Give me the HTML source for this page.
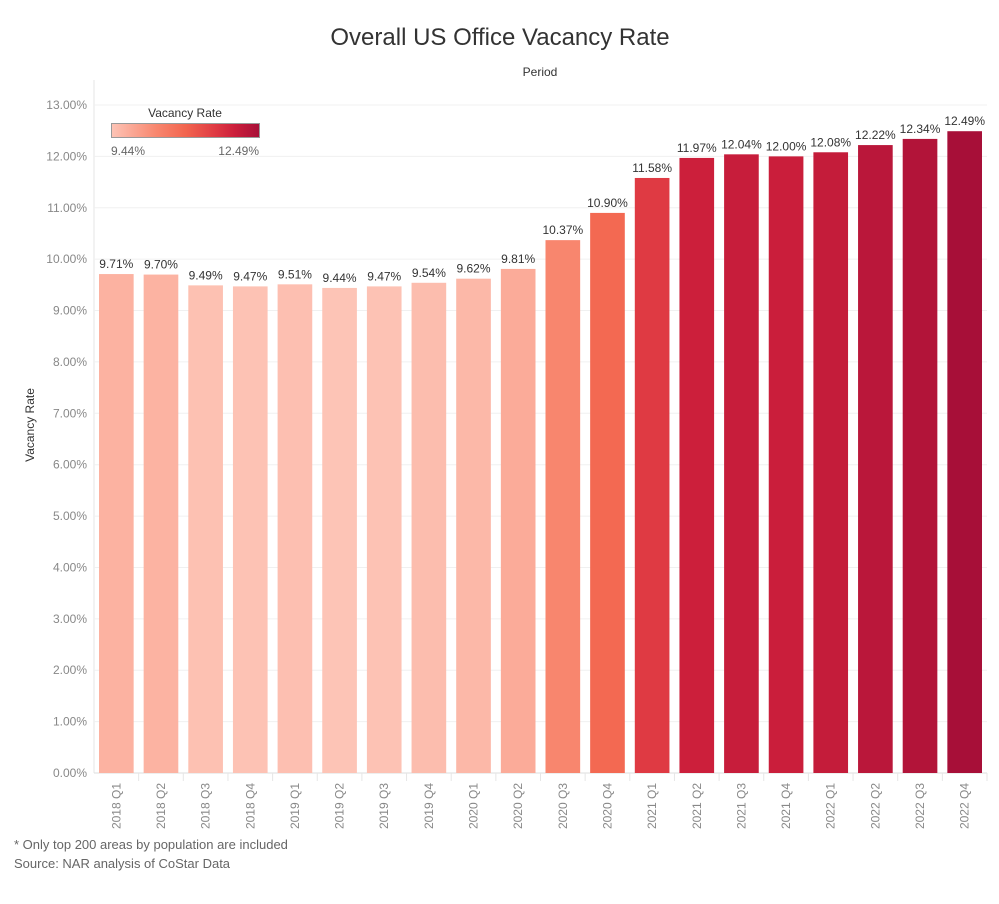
<!DOCTYPE html>
<html><head><meta charset="utf-8"><style>
body{margin:0;background:#fff;font-family:"Liberation Sans","DejaVu Sans",sans-serif}
</style></head><body>
<svg id="chart" width="999" height="899" xmlns="http://www.w3.org/2000/svg" font-family="Liberation Sans, DejaVu Sans, sans-serif">
<defs><linearGradient id="lg" x1="0" x2="1">
<stop offset="0" stop-color="#fdc4b6"/><stop offset="0.3" stop-color="#f8876f"/><stop offset="0.5" stop-color="#f2654f"/><stop offset="0.7" stop-color="#df3a43"/><stop offset="0.83" stop-color="#cc1f3b"/><stop offset="1" stop-color="#a70f38"/></linearGradient></defs>
<text x="500" y="45" text-anchor="middle" font-size="24" fill="#333">Overall US Office Vacancy Rate</text>
<text x="540" y="76" text-anchor="middle" font-size="12" fill="#333">Period</text>
<text transform="translate(34,425) rotate(-90)" text-anchor="middle" font-size="12" fill="#333">Vacancy Rate</text>
<g id="grid"></g><g id="bars"></g><g id="xl"></g>
<g>
<text x="185" y="117" text-anchor="middle" font-size="12" fill="#333">Vacancy Rate</text>
<rect x="111.5" y="123.5" width="148" height="14" fill="url(#lg)" stroke="#999"/>
<text x="111" y="155" font-size="12" fill="#666">9.44%</text>
<text x="259" y="155" text-anchor="end" font-size="12" fill="#666">12.49%</text>
</g>
<text x="14" y="849" font-size="13" fill="#666">* Only top 200 areas by population are included</text>
<text x="14" y="868" font-size="13" fill="#666">Source: NAR analysis of CoStar Data</text>
</svg>
<script>
const categories=["2018 Q1","2018 Q2","2018 Q3","2018 Q4","2019 Q1","2019 Q2","2019 Q3","2019 Q4","2020 Q1","2020 Q2","2020 Q3","2020 Q4","2021 Q1","2021 Q2","2021 Q3","2021 Q4","2022 Q1","2022 Q2","2022 Q3","2022 Q4"];
const values=[9.71,9.70,9.49,9.47,9.51,9.44,9.47,9.54,9.62,9.81,10.37,10.90,11.58,11.97,12.04,12.00,12.08,12.22,12.34,12.49];
const yTicks=[0,1,2,3,4,5,6,7,8,9,10,11,12,13];
const NS="http://www.w3.org/2000/svg";
const L=94,R=987,T=105,B=773;
const y=v=>B-(v/13)*(B-T);
const bw=(R-L)/categories.length;
const x=i=>L+i*bw;
const stops=[[0,[253,196,182]],[0.3,[248,135,111]],[0.5,[242,101,79]],[0.7,[223,58,67]],[0.83,[204,31,59]],[1,[167,15,56]]];
function col(v){const mn=Math.min(...values),mx=Math.max(...values);let t=(v-mn)/(mx-mn);t=Math.max(0,Math.min(1,t));
for(let k=1;k<stops.length;k++){if(t<=stops[k][0]){const a=stops[k-1],b=stops[k],f=(t-a[0])/(b[0]-a[0]);return "rgb("+a[1].map((c,j)=>Math.round(c+(b[1][j]-c)*f)).join(",")+")";}}return "rgb(167,15,56)";}
function mk(tag,at,p){const e=document.createElementNS(NS,tag);for(const k in at)e.setAttribute(k,at[k]);p.appendChild(e);return e;}
const g=document.getElementById("grid"),bg=document.getElementById("bars"),xl=document.getElementById("xl");
mk("line",{x1:L,x2:L,y1:80,y2:B,stroke:"#e6e6e6"},g);
yTicks.forEach(t=>{
 const ln=mk("line",{x1:L,x2:R,y1:y(t),y2:y(t),stroke:t===0?"#ddd":"#f0f0f0"},g);
 
 
 const tx=mk("text",{x:87,y:y(t)+4,"text-anchor":"end","font-size":12,fill:"#888"},g);
 tx.textContent=t.toFixed(2)+"%";
 
 
});
values.forEach((v,i)=>{
 const r=mk("rect",{x:x(i)+5,y:y(v),width:bw-10,height:B-y(v),fill:col(v)},bg);
 
 
 const lb=mk("text",{x:x(i)+bw/2,y:y(v)-6,"text-anchor":"middle","font-size":12,fill:"#333"},bg);
 lb.textContent=v.toFixed(2)+"%";
 
 
 mk("line",{x1:x(i+1),x2:x(i+1),y1:B,y2:B+8,stroke:"#e6e6e6"},xl);
 const cx=x(i)+bw/2+4;
 const ct=mk("text",{transform:"translate("+cx+","+(B+10)+") rotate(-90)","text-anchor":"end","font-size":12,fill:"#888"},xl);
 ct.textContent=categories[i];
 
 
});
</script>
</body></html>
